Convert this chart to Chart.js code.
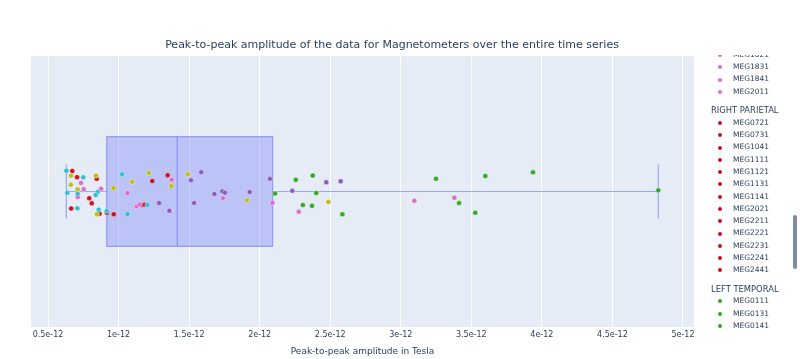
<!DOCTYPE html>
<html>
<head>
<meta charset="utf-8">
<script src="https://cdn.jsdelivr.net/npm/chart.js@4.4.1/dist/chart.umd.min.js"></script>
<style>
  body { margin: 0; background: #fff; }
  #wrap { position: relative; width: 800px; height: 359px; }
  #legend { position: absolute; left: 700px; top: 55px; width: 90px; height: 276px; overflow: hidden;
            font-family: "DejaVu Sans"; font-size: 7.5px; color: #2a3f5f; }
  .head { height: 12.3px; line-height: 12.3px; margin-top: 6.4px; padding-left: 11px; white-space: nowrap; font-size: 8.4px; }
  .item { height: 12.3px; line-height: 12.3px; position: relative; padding-left: 33px; white-space: nowrap; }
  .dot { position: absolute; left: 18px; top: 4.2px; width: 4px; height: 4px; border-radius: 50%; }
  #scroll { position: absolute; left: 793px; top: 215px; width: 4px; height: 54px; border-radius: 2px; background: #808ba4; }
</style>
</head>
<body>
<div id="wrap">
  <canvas id="chart" width="800" height="359"></canvas>
  <div id="legend"></div>
  <div id="scroll"></div>
</div>
<script>
// values in units of 1e-12 T, jitter is the vertical offset of each point
const tickValues = [0.5, 1, 1.5, 2, 2.5, 3, 3.5, 4, 4.5, 5];
const tickLabels = ["0.5e-12", "1e-12", "1.5e-12", "2e-12", "2.5e-12", "3e-12", "3.5e-12", "4e-12", "4.5e-12", "5e-12"];

// box: lower whisker, q1, median, q3, upper whisker
const boxStats = [0.630, 0.916, 1.416, 2.092, 4.825];

const leftFrontalChannels = ["MEG0121", "MEG0311", "MEG0321", "MEG0331", "MEG0341", "MEG0511", "MEG0521", "MEG0531", "MEG0541", "MEG0611", "MEG0621", "MEG0811"];
const leftFrontalValues = [0.663, 0.840, 0.661, 0.710, 0.847, 0.964, 1.097, 1.214, 1.374, 1.490, 1.910, 2.487];
const leftFrontalJitter = [0.117, 0.117, 0.050, 0.016, -0.168, 0.026, 0.072, 0.137, 0.041, 0.127, -0.064, -0.076];

const rightFrontalChannels = ["MEG0821", "MEG0911", "MEG0921", "MEG0931", "MEG0941", "MEG1011", "MEG1021", "MEG1031", "MEG1211", "MEG1221", "MEG1231", "MEG1241"];
const rightFrontalValues = [0.630, 0.750, 0.637, 0.710, 0.852, 0.838, 0.708, 0.859, 0.916, 1.024, 1.063, 1.204];
const rightFrontalJitter = [0.154, 0.105, -0.009, -0.016, -0.004, -0.026, -0.124, -0.134, -0.144, 0.127, -0.166, -0.100];

const leftParietalChannels = ["MEG0411", "MEG0421", "MEG0431", "MEG0441", "MEG0631", "MEG0641", "MEG0711", "MEG0741", "MEG1811", "MEG1821", "MEG1831", "MEG1841", "MEG2011"];
const leftParietalValues = [0.734, 0.753, 0.876, 0.711, 1.063, 1.129, 1.149, 1.377, 1.740, 2.091, 2.277, 3.096, 3.380];
const leftParietalJitter = [0.063, 0.017, 0.021, -0.041, -0.011, -0.109, -0.096, 0.087, -0.049, -0.083, -0.149, -0.068, -0.046];

const rightParietalChannels = ["MEG0721", "MEG0731", "MEG1041", "MEG1111", "MEG1121", "MEG1131", "MEG1141", "MEG2021", "MEG2211", "MEG2221", "MEG2231", "MEG2241", "MEG2441"];
const rightParietalValues = [0.672, 0.706, 0.845, 0.792, 0.810, 0.664, 0.865, 0.917, 0.966, 1.239, 1.348, 1.168, 1.187];
const rightParietalJitter = [0.151, 0.106, 0.094, -0.050, -0.087, -0.125, -0.164, -0.157, -0.168, 0.077, 0.120, -0.100, -0.097];

const leftTemporalChannels = ["MEG0111", "MEG0131", "MEG0141", "MEG0211", "MEG0221", "MEG0231", "MEG0241", "MEG1511", "MEG1521", "MEG1531", "MEG1541", "MEG1611", "MEG1621"];
const leftTemporalValues = [2.109, 2.256, 2.376, 2.401, 2.306, 2.371, 2.586, 3.250, 3.599, 3.937, 3.413, 3.528, 4.825];
const leftTemporalJitter = [-0.015, 0.086, 0.118, -0.011, -0.100, -0.105, -0.168, 0.094, 0.114, 0.142, -0.085, -0.156, 0.009];

const rightTemporalChannels = ["MEG1311", "MEG1321", "MEG1331", "MEG1341", "MEG1411", "MEG1421", "MEG1431", "MEG1441", "MEG2411", "MEG2421", "MEG2611", "MEG2621", "MEG2641"];
const rightTemporalValues = [1.287, 1.360, 1.586, 1.513, 1.535, 1.679, 1.735, 1.754, 1.929, 2.073, 2.231, 2.472, 2.574];
const rightTemporalJitter = [-0.085, -0.142, 0.142, 0.083, -0.085, -0.018, 0.001, -0.009, -0.004, 0.094, 0.005, 0.068, 0.075];

const groups = [
  { name: "LEFT FRONTAL", color: "#bebe14", channels: leftFrontalChannels, values: leftFrontalValues, jitter: leftFrontalJitter },
  { name: "RIGHT FRONTAL", color: "#32bed2", channels: rightFrontalChannels, values: rightFrontalValues, jitter: rightFrontalJitter },
  { name: "LEFT PARIETAL", color: "#dc6ec8", channels: leftParietalChannels, values: leftParietalValues, jitter: leftParietalJitter },
  { name: "RIGHT PARIETAL", color: "#cc1122", channels: rightParietalChannels, values: rightParietalValues, jitter: rightParietalJitter },
  { name: "LEFT TEMPORAL", color: "#33aa22", channels: leftTemporalChannels, values: leftTemporalValues, jitter: leftTemporalJitter },
  { name: "RIGHT TEMPORAL", color: "#8c5abe", channels: rightTemporalChannels, values: rightTemporalValues, jitter: rightTemporalJitter }
];

const font = "DejaVu Sans";
const textColor = "#2a3f5f";
const boxLine = "rgba(99,110,250,0.55)";
const boxHalf = 0.405, capHalf = 0.2;

function shape(points, extra) {
  return Object.assign({
    data: points.map(p => ({ x: p[0], y: p[1] })),
    showLine: true, pointRadius: 0, borderColor: boxLine, borderWidth: 1.2,
    tension: 0, order: 1, fill: false
  }, extra || {});
}

const [wLo, q1, med, q3, wHi] = boxStats;
const datasets = [
  shape([[q1, -boxHalf], [q3, -boxHalf], [q3, boxHalf], [q1, boxHalf], [q1, -boxHalf]],
        { fill: "shape", backgroundColor: "rgba(99,110,250,0.32)" }),
  shape([[med, -boxHalf], [med, boxHalf]]),
  shape([[wLo, 0], [q1, 0]]),
  shape([[q3, 0], [wHi, 0]]),
  shape([[wLo, -capHalf], [wLo, capHalf]]),
  shape([[wHi, -capHalf], [wHi, capHalf]])
];
groups.forEach(g => {
  datasets.push({
    label: g.name,
    data: g.values.map((v, i) => ({ x: v, y: g.jitter[i] })),
    pointRadius: 2.5,
    backgroundColor: g.color,
    borderColor: "rgba(255,255,255,0.6)",
    borderWidth: 0.6,
    showLine: false,
    order: 0
  });
});

const plotBg = {
  id: "plotBg",
  beforeDraw(chart) {
    const { ctx, chartArea: a } = chart;
    ctx.save();
    ctx.fillStyle = "#e5ecf6";
    ctx.fillRect(a.left, a.top, a.right - a.left, a.bottom - a.top);
    ctx.restore();
  }
};

new Chart(document.getElementById("chart"), {
  type: "scatter",
  data: { datasets },
  plugins: [plotBg],
  options: {
    responsive: false,
    animation: false,
    layout: { padding: { left: 0, right: 16, top: 0, bottom: 0 } },
    plugins: {
      legend: { display: false },
      tooltip: { enabled: false },
      title: {
        display: true,
        text: "Peak-to-peak amplitude of the data for Magnetometers over the entire time series",
        color: textColor,
        font: { family: font, size: 11, weight: "normal" },
        padding: { top: 38.4, bottom: 4.4 }
      }
    },
    scales: {
      x: {
        type: "linear", min: 0.3795, max: 5.078,
        grid: { color: "#ffffff", lineWidth: 1, drawTicks: false },
        border: { display: false },
        afterBuildTicks: s => { s.ticks = tickValues.map(v => ({ value: v })); },
        ticks: {
          callback: (v, i) => tickLabels[i],
          font: { family: font, size: 8 }, color: textColor,
          padding: 3.5, maxRotation: 0, autoSkip: false
        },
        title: {
          display: true, text: "Peak-to-peak amplitude in Tesla",
          color: textColor, font: { family: font, size: 9 },
          padding: { top: 0, bottom: 1.8 }
        },
        afterFit: s => { s.height = 32; }
      },
      y: {
        type: "linear", min: -1, max: 1, position: "left",
        grid: { display: false }, border: { display: false }, ticks: { display: false },
        afterFit: s => { s.width = 31; }
      },
      yRight: {
        type: "linear", min: -1, max: 1, position: "right",
        grid: { display: false }, border: { display: false }, ticks: { display: false },
        afterFit: s => { s.width = 90; }
      }
    }
  }
});

// legend, scrolled like the reference
const legend = document.getElementById("legend");
groups.forEach(g => {
  const h = document.createElement("div");
  h.className = "head";
  h.textContent = g.name;
  legend.appendChild(h);
  g.channels.forEach(c => {
    const it = document.createElement("div");
    it.className = "item";
    it.dataset.ch = c;
    const d = document.createElement("span");
    d.className = "dot";
    d.style.background = g.color;
    it.appendChild(d);
    it.appendChild(document.createTextNode(c));
    legend.appendChild(it);
  });
});
const anchor = legend.querySelector('[data-ch="MEG1831"]');
legend.scrollTop = anchor.offsetTop + anchor.offsetHeight / 2 - (67 - 55);
</script>
</body>
</html>
